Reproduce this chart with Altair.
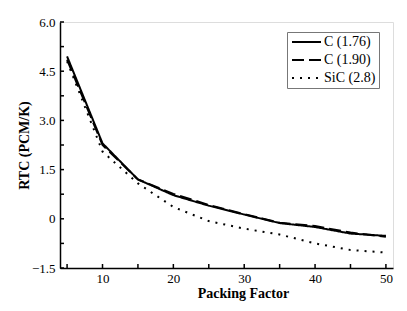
import altair as alt
import pandas as pd

packing = [5, 10, 15, 20, 25, 30, 35, 40, 45, 50]
c176 = [4.95, 2.30, 1.20, 0.72, 0.40, 0.13, -0.13, -0.25, -0.45, -0.52]
c190 = [4.85, 2.25, 1.20, 0.76, 0.42, 0.14, -0.12, -0.22, -0.42, -0.55]
sic28 = [4.80, 2.05, 1.08, 0.36, -0.07, -0.30, -0.48, -0.75, -0.95, -1.03]
series_names = ["C (1.76)", "C (1.90)", "SiC (2.8)"]
x_tick_vals = [5, 10, 15, 20, 25, 30, 35, 40, 45, 50]
x_label_vals = [10, 20, 30, 40, 50]
y_tick_vals = [-1.5, -0.75, 0, 0.75, 1.5, 2.25, 3.0, 3.75, 4.5, 5.25, 6.0]
y_label_vals = [-1.5, 0, 1.5, 3.0, 4.5, 6.0]

rows = []
for name, vals, order in [(series_names[1], c190, 0), (series_names[0], c176, 1), (series_names[2], sic28, 2)]:
    for x, y in zip(packing, vals):
        rows.append({"x": x, "y": y, "series": name, "ord": order})
df = pd.DataFrame(rows)

W, H = 333, 246
FONT = "Liberation Serif"

xscale = alt.Scale(domain=[4, 51], nice=False, zero=False)
yscale = alt.Scale(domain=[-1.5, 6.0], nice=False, zero=False)

common = dict(labelFont=FONT, labelFontSize=13, labelColor="black", titleFont=FONT,
              titleFontSize=14, titleColor="black", domainColor="black", domainWidth=1.5, grid=False)

x_axis = alt.Axis(title="Packing Factor", values=x_label_vals, tickSize=0, labelPadding=4,
                  titleFontWeight="bold", titlePadding=1, titleX=183, **common)
y_axis = alt.Axis(title="RTC (PCM/K)", values=y_label_vals, tickSize=0, labelPadding=5,
                  titleFontWeight="bold", titlePadding=0,
                  labelExpr="datum.value == 0 ? '0' : (datum.value < 0 ? '\u2212' + format(-datum.value, '.1f') : format(datum.value, '.1f'))",
                  **common)

lines = alt.Chart(df).mark_line(color="black", strokeWidth=2).encode(
    x=alt.X("x:Q", scale=xscale, axis=x_axis),
    y=alt.Y("y:Q", scale=yscale, axis=y_axis),
    strokeDash=alt.StrokeDash("series:N",
        scale=alt.Scale(domain=series_names, range=[[1, 0], [12, 5], [2, 6]]),
        legend=alt.Legend(title=None, orient="none", legendX=227, legendY=10,
                          strokeColor="#777777", padding=3, symbolType="M-1,0L4.8,0",
                          symbolSize=100, symbolStrokeWidth=2, symbolStrokeColor="black",
                          labelFont=FONT, labelFontSize=14, labelColor="black",
                          rowPadding=4, labelOffset=20)),
    detail="series:N",
    order="ord:Q",
)

xt = pd.DataFrame({"x": x_tick_vals})
yt = pd.DataFrame({"y": y_tick_vals})

xticks = alt.Chart(xt).mark_rule(color="black", strokeWidth=1.5).encode(
    x=alt.X("x:Q", scale=xscale, axis=x_axis),
    y=alt.value(H), y2=alt.value(H - 4),
)
yticks = alt.Chart(yt).mark_rule(color="black", strokeWidth=1.5).encode(
    y=alt.Y("y:Q", scale=yscale, axis=y_axis),
    x=alt.value(0), x2=alt.value(4),
)

chart = alt.layer(lines, xticks, yticks).properties(
    width=W, height=H,
    autosize=alt.AutoSizeParams(type="none"),
    padding={"left": 52, "top": 14, "right": 6, "bottom": 35},
).configure_view(stroke="black", strokeWidth=1.5).configure(background="white")

chart.save("out.html", embed_options={"renderer": "svg", "actions": False})
